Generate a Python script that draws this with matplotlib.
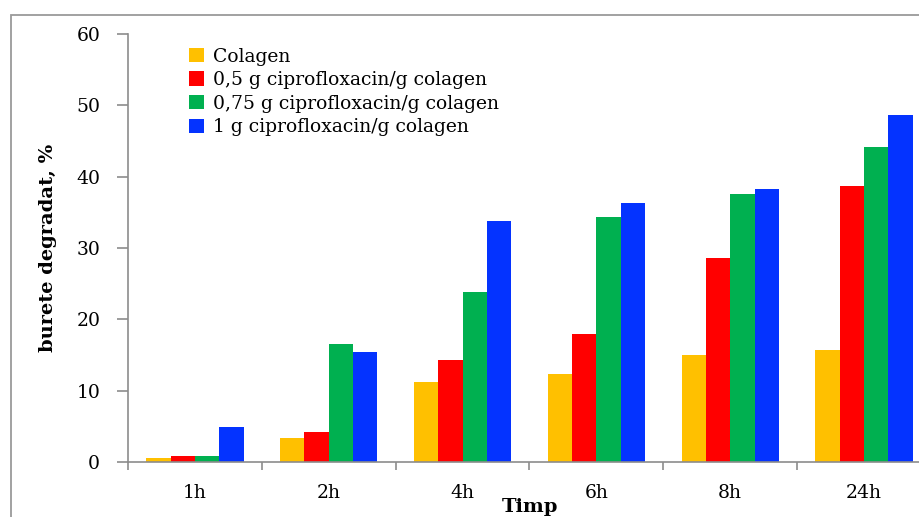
import numpy as np
import matplotlib
matplotlib.use("Agg")
import matplotlib.pyplot as plt
from matplotlib.patches import Rectangle

# --- Dados ---
categorias = ["1h", "2h", "4h", "6h", "8h", "24h"]
serie_nomes = [
    "Colagen",
    "0,5 g ciprofloxacin/g colagen",
    "0,75 g ciprofloxacin/g colagen",
    "1 g ciprofloxacin/g colagen",
]
colagen = [0.6, 3.3, 11.2, 12.3, 15.0, 15.7]
cipro_05 = [0.9, 4.2, 14.3, 18.0, 28.6, 38.7]
cipro_075 = [0.9, 16.6, 23.9, 34.4, 37.6, 44.2]
cipro_1 = [4.9, 15.4, 33.8, 36.3, 38.3, 48.7]
y_ticks = [0, 10, 20, 30, 40, 50, 60]

cores = ["#FFC000", "#FF0000", "#00B050", "#0433FF"]
series = [colagen, cipro_05, cipro_075, cipro_1]

W, H = 920, 517
plt.rcParams['font.family'] = ['DejaVu Serif']
fig = plt.figure(figsize=(W / 100, H / 100), dpi=100)

# moldura externa (vai alem da imagem, como no original)
fig.patches.append(Rectangle((11 / W, -0.1), 1.2, 1 - 15 / H + 0.1,
                             transform=fig.transFigure, fill=False,
                             edgecolor="#9a9a9a", linewidth=1.3))

ax = fig.add_axes([128 / W, 55 / H, 803 / W, 428 / H])

x = np.arange(len(categorias))
w = 1 / 5.5
for i, (vals, cor, nome) in enumerate(zip(series, cores, serie_nomes)):
    ax.bar(x - 2 * w + (i + 0.5) * w, vals, width=w, color=cor, label=nome,
           edgecolor="none")

ax.set_xlim(-0.5, len(categorias) - 0.5)
ax.set_ylim(0, 60)
ax.set_yticks(y_ticks)
ax.set_xticks(x)
ax.set_xticklabels(categorias)
ax.set_xticks(np.arange(-0.5, len(categorias)), minor=True)
ax.tick_params(axis="x", which="major", length=0, pad=16, labelsize=13.5)
ax.tick_params(axis="x", which="minor", length=6, color="#8c8c8c", width=1.2)
ax.tick_params(axis="y", length=8, color="#8c8c8c", width=1.2, pad=12, labelsize=13.5)

for s in ["top", "right"]:
    ax.spines[s].set_visible(False)
for s in ["left", "bottom"]:
    ax.spines[s].set_color("#8c8c8c")
    ax.spines[s].set_linewidth(1.2)

ax.set_ylabel("burete degradat, %", fontsize=14, fontweight="bold", labelpad=14)
fig.text(529.5 / W, 1 / H, "Timp", ha="center", va="bottom",
         fontsize=14, fontweight="bold")

ax.legend(loc="upper left", bbox_to_anchor=(182 / W, 1 - 40 / H),
          bbox_transform=fig.transFigure, frameon=False, fontsize=13.5,
          handlelength=0.8, handleheight=0.8, handletextpad=0.45,
          labelspacing=0.3, borderaxespad=0)

fig.savefig("out.png", dpi=100)
